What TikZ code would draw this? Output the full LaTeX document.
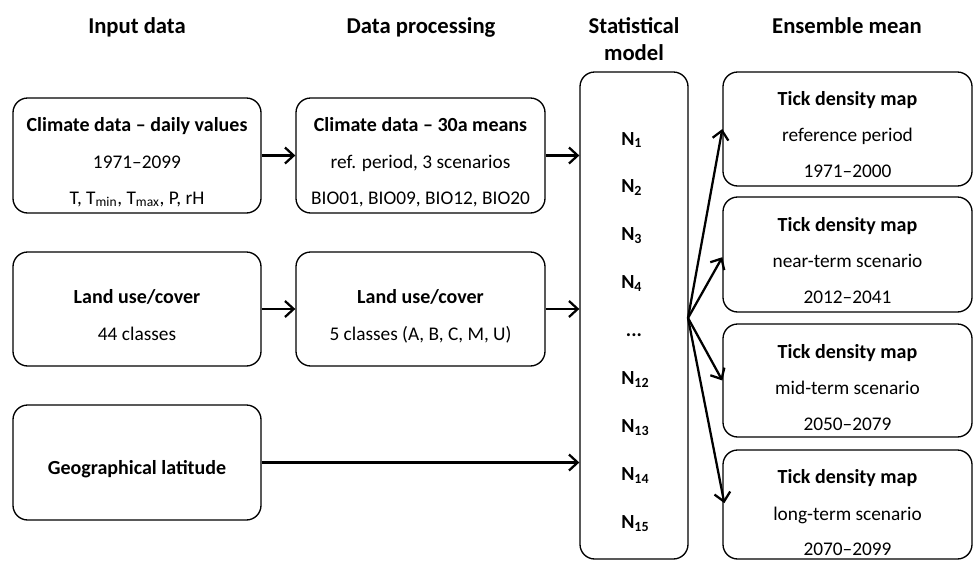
\documentclass[tikz,border=0pt]{standalone}
\usepackage{fontspec}
\setmainfont{Carlito}
\usetikzlibrary{arrows.meta,fit}
\begin{document}
\begin{tikzpicture}[x=0.75pt,y=-0.75pt,
  box/.style={draw, line width=1pt, rounded corners=11pt, inner sep=0pt},
  txt/.style={anchor=base, inner sep=0pt, font=\fontsize{14.5}{17}\selectfont},
  ttl/.style={anchor=base, inner sep=0pt, font=\fontsize{15}{18}\selectfont\bfseries},
  nlab/.style={anchor=base west, inner sep=0pt, font=\fontsize{15}{18}\selectfont\bfseries},
  hdr/.style={anchor=base, inner sep=0pt, align=center, font=\fontsize{17}{20.25}\selectfont\bfseries},
  arr/.style={line width=1.7pt, -{Straight Barb[length=6.5pt,width=12pt]}},
]
\useasboundingbox (0,0) rectangle (974,561);

% headers
\node[hdr] (h1) at (137,33) {Input data};
\node[hdr] (h2) at (421,33) {Data processing};
\node[hdr] (h3) at (634,60) {Statistical\\model};
\node[hdr] (h4) at (847,33) {Ensemble mean};

% input column
\node[box, fit={(13,98)(261,213)}] (A) {};
\node[ttl] (A1) at (137,131) {Climate data \textendash{} daily values};
\node[txt] (A2) at (137,168) {1971\textendash2099};
\node[txt] (A3) at (137,204) {T, T\textsubscript{min}, T\textsubscript{max}, P, rH};

\node[box, fit={(13,252)(261,366)}] (C) {};
\node[ttl] (C1) at (137,303) {Land use/cover};
\node[txt] (C2) at (137,340) {44 classes};

\node[box, fit={(13,405)(261,520)}] (E) {};
\node[ttl] (E1) at (137,474) {Geographical latitude};

% processing column
\node[box, fit={(296,98)(545,213)}] (B) {};
\node[ttl] (B1) at (420.5,131) {Climate data \textendash{} 30a means};
\node[txt] (B2) at (420.5,168) {ref. period, 3 scenarios};
\node[txt, font=\fontsize{14.5}{17}\selectfont] (B3) at (420.5,204) {BIO01, BIO09, BIO12, BIO20};

\node[box, fit={(296,252)(545,366)}] (D) {};
\node[ttl] (D1) at (420.5,303) {Land use/cover};
\node[txt] (D2) at (420.5,340) {5 classes (A, B, C, M, U)};

% statistical model
\node[box, fit={(580,72)(688,559)}] (M) {};
\node[nlab] (n1) at (621,145) {N\textsubscript{1}};
\node[nlab] (n2) at (621,192.9) {N\textsubscript{2}};
\node[nlab] (n3) at (621,240.8) {N\textsubscript{3}};
\node[nlab] (n4) at (621,288.7) {N\textsubscript{4}};
\node[ttl] (n5) at (634,336.6) {...};
\node[nlab] (n12) at (621,384.5) {N\textsubscript{12}};
\node[nlab] (n13) at (621,432.4) {N\textsubscript{13}};
\node[nlab] (n14) at (621,480.3) {N\textsubscript{14}};
\node[nlab] (n15) at (621,528.2) {N\textsubscript{15}};

% ensemble column
\node[box, fit={(723,72)(972,186)}] (R1) {};
\node[ttl] (R11) at (847.5,105) {Tick density map};
\node[txt] (R12) at (847.5,141) {reference period};
\node[txt] (R13) at (847.5,177) {1971\textendash2000};

\node[box, fit={(723,197)(972,312)}] (R2) {};
\node[ttl] (R21) at (847.5,231) {Tick density map};
\node[txt] (R22) at (847.5,267) {near-term scenario};
\node[txt] (R23) at (847.5,303) {2012\textendash2041};

\node[box, fit={(723,324)(972,437)}] (R3) {};
\node[ttl] (R31) at (847.5,358) {Tick density map};
\node[txt] (R32) at (847.5,394) {mid-term scenario};
\node[txt] (R33) at (847.5,430) {2050\textendash2079};

\node[box, fit={(723,450)(972,559)}] (R4) {};
\node[ttl] (R41) at (847.5,483) {Tick density map};
\node[txt] (R42) at (847.5,520) {long-term scenario};
\node[txt] (R43) at (847.5,555) {2070\textendash2099};

% connectors
\draw[arr] (A.east) -- (B.west);
\draw[arr] (C.east) -- (D.west);
\draw[arr] (B.east) -- (B.east -| M.west);
\draw[arr] (D.east) -- (D.east -| M.west);
\draw[arr] (E.east) -- (E.east -| M.west);

\coordinate (F) at (688,318);
\draw[arr] (F) -- (R1.west);
\draw[arr] (F) -- ([yshift=-2pt]R2.west);
\draw[arr] (F) -- (R3.west);
\draw[arr] (F) -- ([xshift=1.5pt,yshift=1pt]R4.west);
\end{tikzpicture}
\end{document}
